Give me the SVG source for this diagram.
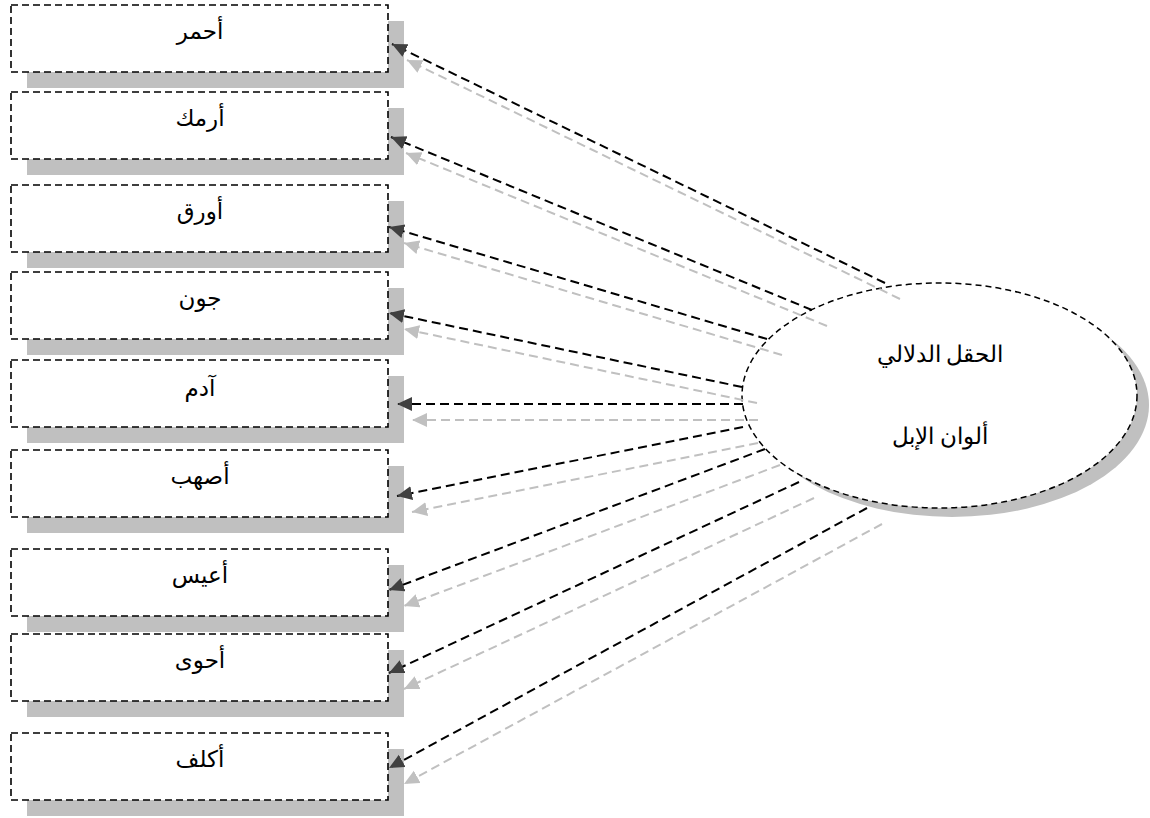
<svg xmlns="http://www.w3.org/2000/svg" width="1150" height="818" viewBox="0 0 1150 818">
<style>
.shadow{fill:#c0c0c0;stroke:none}
.box{fill:#fff;stroke:#000;stroke-width:1.6;stroke-dasharray:7 4}
.lbl{font-family:"Liberation Sans","DejaVu Sans",sans-serif;font-size:23px;fill:#000;text-anchor:middle}
.elbl{font-family:"Liberation Serif","DejaVu Serif",serif;font-size:23px;fill:#000;text-anchor:middle}
.cb{stroke:#000;stroke-width:2;stroke-dasharray:9 5;fill:none;marker-end:url(#ab)}
.cg{stroke:#c0c0c0;stroke-width:2;stroke-dasharray:9 5;fill:none;marker-end:url(#ag)}
</style>
<defs>
<marker id="ab" markerUnits="userSpaceOnUse" markerWidth="16" markerHeight="16" refX="15" refY="7" orient="auto">
<path d="M0,0 L15,7 L0,14 Z" fill="#404040"/>
</marker>
<marker id="ag" markerUnits="userSpaceOnUse" markerWidth="16" markerHeight="16" refX="15" refY="7" orient="auto">
<path d="M0,0 L15,7 L0,14 Z" fill="#c0c0c0"/>
</marker>
</defs>
<rect width="1150" height="818" fill="#fff"/>
<g id="n1"><rect class="shadow" x="27" y="21" width="377" height="67"/><rect class="box" x="11" y="5" width="377" height="67"/><text class="lbl" x="200" y="39">أحمر</text></g>
<g id="n2"><rect class="shadow" x="27" y="108" width="377" height="67"/><rect class="box" x="11" y="92" width="377" height="67"/><text class="lbl" x="200" y="126">أرمك</text></g>
<g id="n3"><rect class="shadow" x="27" y="201" width="377" height="67"/><rect class="box" x="11" y="185" width="377" height="67"/><text class="lbl" x="200" y="219">أورق</text></g>
<g id="n4"><rect class="shadow" x="27" y="288" width="377" height="67"/><rect class="box" x="11" y="272" width="377" height="67"/><text class="lbl" x="200" y="306">جون</text></g>
<g id="n5"><rect class="shadow" x="27" y="376" width="377" height="67"/><rect class="box" x="11" y="360" width="377" height="67"/><text class="lbl" x="200" y="396">آدم</text></g>
<g id="n6"><rect class="shadow" x="27" y="466" width="377" height="67"/><rect class="box" x="11" y="450" width="377" height="67"/><text class="lbl" x="200" y="484">أصهب</text></g>
<g id="n7"><rect class="shadow" x="27" y="565" width="377" height="67"/><rect class="box" x="11" y="549" width="377" height="67"/><text class="lbl" x="200" y="583">أعيس</text></g>
<g id="n8"><rect class="shadow" x="27" y="650" width="377" height="67"/><rect class="box" x="11" y="634" width="377" height="67"/><text class="lbl" x="200" y="668">أحوى</text></g>
<g id="n9"><rect class="shadow" x="27" y="749" width="377" height="67"/><rect class="box" x="11" y="733" width="377" height="67"/><text class="lbl" x="200" y="767">أكلف</text></g>
<g id="center">
<ellipse class="shadow" cx="952" cy="405" rx="197" ry="112"/>
<ellipse cx="939.5" cy="395.5" rx="197.5" ry="112.5" fill="#fff" stroke="#000" stroke-width="1.5" stroke-dasharray="6 4"/>
<text class="elbl" x="940" y="362">الحقل الدلالي</text>
<text class="elbl" x="940" y="444">ألوان الإبل</text>
</g>
<g id="connectors">
<line class="cg" x1="900" y1="299" x2="407" y2="60"/>
<line class="cg" x1="827" y1="326" x2="406" y2="153"/>
<line class="cg" x1="782" y1="355" x2="404" y2="243"/>
<line class="cg" x1="757" y1="403" x2="404" y2="329"/>
<line class="cg" x1="758" y1="420" x2="412" y2="420"/>
<line class="cg" x1="758" y1="443" x2="412" y2="512"/>
<line class="cg" x1="780" y1="465" x2="404" y2="606"/>
<line class="cg" x1="814" y1="498" x2="404" y2="689"/>
<line class="cg" x1="882" y1="524" x2="404" y2="784"/>
<line class="cb" x1="885" y1="283" x2="392" y2="44"/>
<line class="cb" x1="812" y1="310" x2="391" y2="137"/>
<line class="cb" x1="767" y1="339" x2="389" y2="227"/>
<line class="cb" x1="742" y1="387" x2="389" y2="313"/>
<line class="cb" x1="743" y1="404" x2="397" y2="404"/>
<line class="cb" x1="743" y1="427" x2="397" y2="496"/>
<line class="cb" x1="765" y1="449" x2="389" y2="590"/>
<line class="cb" x1="799" y1="482" x2="389" y2="673"/>
<line class="cb" x1="867" y1="508" x2="389" y2="768"/>
</g>
</svg>
